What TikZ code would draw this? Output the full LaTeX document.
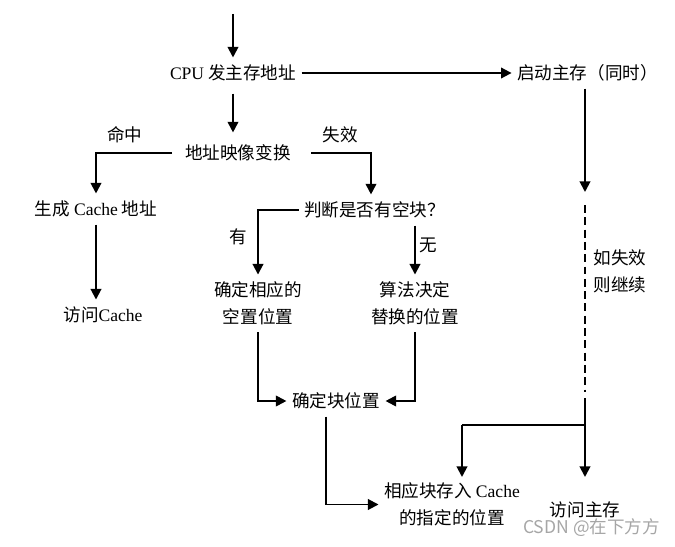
\documentclass[tikz,border=0pt]{standalone}
\usepackage{fontspec}
\setmainfont{Liberation Serif}
\newfontfamily\cjk{Noto Sans CJK SC}
\usetikzlibrary{arrows.meta, positioning}

\begin{document}
\begin{tikzpicture}[
    box/.style={inner xsep=3pt, inner ysep=4pt, align=center, font=\fontsize{10}{15.3}\selectfont\cjk},
    lbl/.style={inner sep=1pt, font=\fontsize{10}{12}\selectfont\cjk},
    line/.style={line width=1.1pt},
    edge/.style={line, -{Triangle[length=6pt, width=6pt]}}
]
    \useasboundingbox (0,0) rectangle (13.5,-10.94);

    % Nodes of the flow
    \node[box] (cpu) at (4.66,-1.46) {{\rmfamily CPU} 发主存地址};
    \node[box] (mem) at (11.75,-1.46) {启动主存（同时）};
    \node[box] (map) at (4.76,-3.06) {地址映像变换};
    \node[box] (gen) at (1.92,-4.18) {生成 {\rmfamily Cache} 地址};
    \node[box] (acc) at (2.06,-6.30) {访问{\rmfamily Cache}};
    \node[box] (judge) at (7.49,-4.20) {判断是否有空块？};
    \node[box] (yes) at (5.16,-6.07) {确定相应的\\空置位置};
    \node[box] (alg) at (8.30,-6.07) {算法决定\\替换的位置};
    \node[box] (blk) at (6.72,-8.02) {确定块位置};
    \node[box] (store) at (9.04,-10.09) {相应块存入 {\rmfamily Cache}\\的指定的位置};
    \node[box] (mainacc) at (11.70,-10.20) {访问主存};

    % Branch labels
    \node[lbl] (hit) at (2.50,-2.70) {命中};
    \node[lbl] (miss) at (6.80,-2.70) {失效};
    \node[lbl] (have) at (4.76,-4.74) {有};
    \node[lbl] (none) at (8.56,-4.90) {无};
    \node[box] (cont) at (12.40,-5.42) {如失效\\则继续};
    \node[lbl, text=gray!70] (mark) at (11.83,-10.56) {CSDN @在下方方};

    % Helper points
    \coordinate (start) at (4.66,-0.28);
    \coordinate (gapA) at (11.70,-3.84);
    \coordinate (gapB) at (11.70,-4.10);
    \coordinate (gapC) at (11.70,-7.84);
    \coordinate (gapD) at (11.70,-7.96);
    \coordinate (split) at (11.70,-8.50);
    \coordinate (drop) at (9.24,-8.50);
    \coordinate (endL) at (9.24,-9.54);
    \coordinate (endR) at (11.70,-9.54);

    % Connectors
    \draw[edge] (start) -- (cpu);
    \draw[edge] (cpu.east) -- (mem.west);
    \draw[edge] ([yshift=-0.1cm]cpu.south) -- ([yshift=0.1cm]cpu |- map.north);
    \draw[edge] ([xshift=-0.15cm]map.west) -| (gen.north);
    \draw[edge] ([xshift=0.3cm]map.east) -| ([xshift=-0.07cm]judge.north);
    \draw[edge] (gen) -- (gen |- acc.north);
    \draw[edge] (judge.west) -| (yes.north);
    \draw[edge] (alg |- judge.south) -- (alg.north);
    \draw[edge] (yes.south) |- (blk.west);
    \draw[edge] (alg.south) |- (blk.east);
    \draw[edge] ([xshift=-0.2cm]blk.south) |- (store.west);

    % Main memory path
    \draw[edge] (mem.south -| gapA) -- (gapA);
    \draw[line, dash pattern=on 4.5pt off 2.5pt] (gapB) -- (gapC);
    \draw[edge] (gapD) -- (endR);
    \draw[line] (split) -- (drop);
    \draw[edge] (drop) -- (endL);
\end{tikzpicture}
\end{document}
